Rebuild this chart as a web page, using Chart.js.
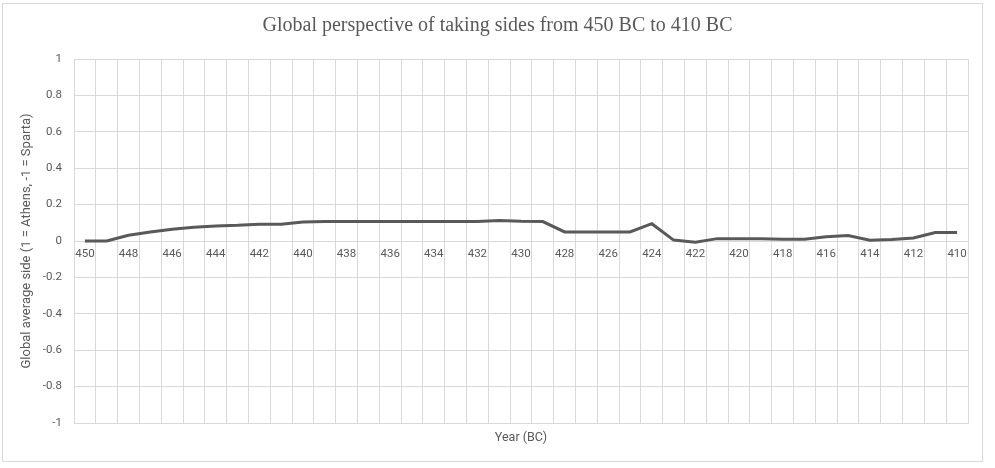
<!DOCTYPE html>
<html>
<head>
<meta charset="utf-8">
<script src="https://cdn.jsdelivr.net/npm/chart.js@4/dist/chart.umd.min.js"></script>
<style>
  html, body { margin: 0; padding: 0; background: #ffffff; }
  #wrap { width: 995px; height: 468px; position: relative; }
</style>
</head>
<body>
<div id="wrap"><canvas id="c" width="995" height="468"></canvas></div>
<script>
// Years (BC), oldest first
const years = [
  '450', '449', '448', '447', '446', '445', '444', '443', '442', '441',
  '440', '439', '438', '437', '436', '435', '434', '433', '432', '431',
  '430', '429', '428', '427', '426', '425', '424', '423', '422', '421',
  '420', '419', '418', '417', '416', '415', '414', '413', '412', '411',
  '410'
];

// Global average side per year (1 = Athens, -1 = Sparta)
const averageSide = [
  0.000, 0.000, 0.032, 0.050, 0.065, 0.076, 0.083, 0.086, 0.092, 0.092,
  0.105, 0.107, 0.107, 0.107, 0.107, 0.107, 0.107, 0.107, 0.107, 0.112,
  0.108, 0.107, 0.050, 0.050, 0.050, 0.050, 0.095, 0.005, -0.007, 0.013,
  0.013, 0.012, 0.010, 0.010, 0.023, 0.030, 0.004, 0.008, 0.017, 0.047,
  0.047
];

// Y axis range and step
const yMin = -1;
const yMax = 1;
const yStep = 0.2;

const textColor = '#595959';
const gridColor = '#d9d9d9';
const bodyFont = 'Roboto, "Open Sans", sans-serif';

// Light frame around the whole chart
const framePlugin = {
  id: 'frame',
  beforeDraw(chart) {
    const ctx = chart.ctx;
    ctx.save();
    ctx.fillStyle = '#ffffff';
    ctx.fillRect(0, 0, chart.width, chart.height);
    ctx.strokeStyle = '#d9d9d9';
    ctx.lineWidth = 1;
    ctx.strokeRect(2.5, 3.5, 980, 458);
    ctx.restore();
  }
};

new Chart(document.getElementById('c'), {
  type: 'line',
  data: {
    labels: years,
    datasets: [{
      label: 'Global average side',
      data: averageSide,
      borderColor: '#595959',
      borderWidth: 3,
      pointRadius: 0,
      pointHoverRadius: 0,
      tension: 0,
      fill: false,
      xAxisID: 'x',
      yAxisID: 'y'
    }]
  },
  options: {
    responsive: false,
    animation: false,
    events: [],
    layout: { padding: { left: 0, right: 0, top: 0, bottom: 8 } },
    plugins: {
      legend: { display: false },
      tooltip: { enabled: false },
      title: {
        display: true,
        text: 'Global perspective of taking sides from 450 BC to 410 BC',
        color: textColor,
        font: { family: '"Liberation Serif", "Times New Roman", serif', size: 20, weight: 'normal' },
        padding: { top: 14, bottom: 21 }
      }
    },
    scales: {
      x: {
        type: 'category',
        position: 'bottom',
        offset: true,
        grid: { display: true, offset: true, color: gridColor, drawTicks: false },
        border: { display: true, color: gridColor },
        ticks: { display: false },
        title: {
          display: true,
          text: 'Year (BC)',
          color: textColor,
          font: { family: bodyFont, size: 12.5 },
          padding: { top: 15, bottom: 15 }
        },
        afterFit(scale) { scale.height = 37; }
      },
      xLabels: {
        type: 'category',
        position: { y: 0 },
        offset: true,
        grid: { display: false, drawTicks: false },
        border: { display: false },
        ticks: {
          autoSkip: false,
          maxRotation: 0,
          padding: 6,
          color: textColor,
          font: { family: bodyFont, size: 11.5 },
          callback(value, index) {
            return index % 2 === 0 ? years[index] : '';
          }
        }
      },
      y: {
        type: 'linear',
        position: 'left',
        min: yMin,
        max: yMax,
        grid: { color: gridColor, drawTicks: false },
        border: { display: true, color: gridColor },
        ticks: {
          stepSize: yStep,
          padding: 12,
          color: textColor,
          font: { family: bodyFont, size: 11.5 },
          callback(value) {
            return String(Math.round(value * 10) / 10);
          }
        },
        title: {
          display: true,
          text: 'Global average side (1 = Athens, -1 = Sparta)',
          color: textColor,
          font: { family: bodyFont, size: 13 },
          padding: { top: 19, bottom: 0 }
        },
        afterFit(scale) { scale.width = 74; }
      },
      // empty right-hand margin beside the plot
      yRight: {
        type: 'linear',
        position: 'right',
        min: yMin,
        max: yMax,
        grid: { display: false, drawTicks: false },
        border: { display: false },
        ticks: { display: false },
        afterFit(scale) { scale.width = 27; }
      }
    }
  },
  plugins: [framePlugin]
});
</script>
</body>
</html>
